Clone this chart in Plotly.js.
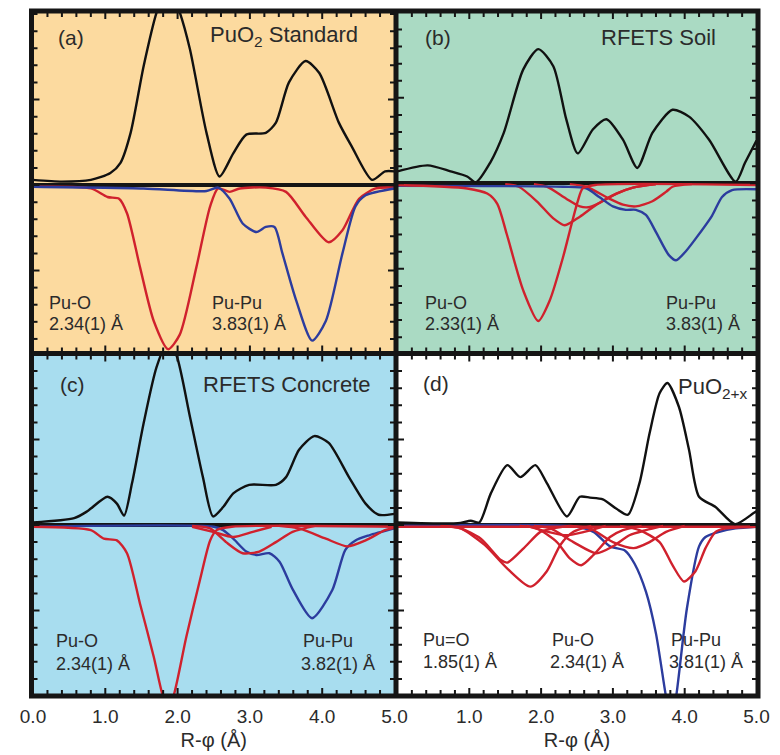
<!DOCTYPE html>
<html>
<head>
<meta charset="utf-8">
<script src="https://cdn.plot.ly/plotly-3.0.1.min.js"></script>
<style>html,body{margin:0;padding:0;background:#fff;} #plot{width:780px;height:755px;}</style>
</head>
<body>
<div id="plot"></div>
<script>
// ---------- DATA (R-phi in Angstrom, magnitude in arbitrary units) ----------
// Panel (a) PuO2 Standard
const aBlackR = [0, 0.4, 0.8, 1.07, 1.21, 1.35, 1.53, 1.71, 1.87, 2.03, 2.17, 2.40, 2.58, 2.77, 2.95, 3.22, 3.36, 3.54, 3.77, 3.96, 4.23, 4.41, 4.69, 4.87, 5.0];
const aBlackY = [0.06, 0.04, 0.06, 0.14, 0.26, 0.61, 1.39, 2.02, 2.35, 2.02, 1.59, 0.61, 0.10, 0.37, 0.59, 0.61, 0.73, 1.20, 1.45, 1.31, 0.73, 0.45, 0.06, 0.16, 0.16];
const aRedR = [0, 0.8, 1.03, 1.19, 1.30, 1.48, 1.67, 1.87, 2.03, 2.26, 2.45, 2.56, 2.72, 2.86, 3.22, 3.50, 3.77, 4.09, 4.28, 4.51, 4.74, 5.0];
const aRedY = [-0.02, -0.04, -0.14, -0.16, -0.33, -0.96, -1.59, -1.92, -1.75, -0.96, -0.25, -0.04, -0.08, -0.04, -0.03, -0.08, -0.37, -0.67, -0.53, -0.16, -0.04, -0.03];
const aBlueR = [0, 1.53, 2.40, 2.56, 2.72, 2.90, 3.09, 3.22, 3.34, 3.45, 3.64, 3.86, 4.05, 4.28, 4.46, 4.60, 5.0];
const aBlueY = [-0.02, -0.04, -0.07, -0.03, -0.16, -0.45, -0.55, -0.49, -0.49, -0.80, -1.35, -1.82, -1.59, -0.80, -0.25, -0.12, -0.04];

// Panel (b) RFETS Soil
const bBlackR = [0, 0.42, 0.74, 0.97, 1.09, 1.29, 1.48, 1.75, 1.96, 2.17, 2.35, 2.51, 2.72, 2.91, 3.14, 3.34, 3.55, 3.83, 4.06, 4.34, 4.71, 4.84, 5.0];
const bBlackY = [0.14, 0.21, 0.14, 0.08, 0.01, 0.24, 0.59, 1.33, 1.57, 1.37, 0.75, 0.35, 0.63, 0.75, 0.51, 0.18, 0.59, 0.86, 0.78, 0.51, 0.02, 0.24, 0.50];
const bRed1R = [0, 0.97, 1.25, 1.39, 1.52, 1.75, 1.96, 2.12, 2.31, 2.42, 2.51, 2.58, 2.75, 5.0];
const bRed1Y = [-0.02, -0.06, -0.12, -0.24, -0.59, -1.25, -1.61, -1.37, -0.85, -0.49, -0.21, -0.06, -0.02, -0.02];
const bRed2R = [1.5, 1.69, 1.94, 2.17, 2.33, 2.54, 2.77, 3.05, 3.28, 3.6];
const bRed2Y = [-0.01, -0.04, -0.21, -0.41, -0.49, -0.39, -0.25, -0.12, -0.05, -0.01];
const bRed3R = [1.9, 2.08, 2.35, 2.54, 2.66, 2.81, 3.05, 3.28, 3.6];
const bRed3Y = [-0.01, -0.04, -0.18, -0.27, -0.28, -0.23, -0.12, -0.05, -0.01];
const bRed4R = [2.4, 2.63, 2.95, 3.14, 3.32, 3.55, 3.74, 3.83, 4.1];
const bRed4Y = [-0.01, -0.04, -0.18, -0.25, -0.27, -0.21, -0.10, -0.04, -0.01];
const bBlueR = [0, 2.31, 2.63, 2.81, 3.0, 3.18, 3.32, 3.46, 3.60, 3.78, 3.88, 4.01, 4.15, 4.38, 4.52, 4.66, 5.0];
const bBlueY = [-0.03, -0.04, -0.06, -0.16, -0.27, -0.31, -0.31, -0.37, -0.57, -0.84, -0.90, -0.80, -0.65, -0.38, -0.16, -0.08, -0.07];

// Panel (c) RFETS Concrete
const cBlackR = [0, 0.57, 0.75, 1.03, 1.16, 1.26, 1.37, 1.53, 1.71, 1.87, 1.99, 2.17, 2.35, 2.49, 2.63, 2.77, 2.99, 3.36, 3.50, 3.68, 3.89, 4.09, 4.37, 4.60, 4.78, 5.0];
const cBlackY = [0.03, 0.08, 0.16, 0.33, 0.25, 0.11, 0.49, 1.19, 1.85, 2.15, 1.97, 1.27, 0.56, 0.10, 0.21, 0.37, 0.47, 0.47, 0.56, 0.88, 1.04, 0.96, 0.56, 0.25, 0.12, 0.13];
const cRed1R = [0, 0.80, 0.98, 1.16, 1.30, 1.48, 1.67, 1.80, 1.87, 1.94, 2.12, 2.31, 2.45, 2.54, 2.75, 5.0];
const cRed1Y = [-0.02, -0.06, -0.16, -0.18, -0.33, -0.92, -1.54, -2.01, -2.12, -2.01, -1.31, -0.64, -0.18, -0.06, -0.02, -0.02];
const cRed2R = [2.2, 2.45, 2.67, 2.90, 3.13, 3.36, 3.59, 3.9];
const cRed2Y = [-0.01, -0.04, -0.20, -0.33, -0.31, -0.20, -0.08, -0.01];
const cRed3R = [2.2, 2.49, 2.77, 3.04, 3.3];
const cRed3Y = [-0.02, -0.08, -0.14, -0.08, -0.02];
const cRed4R = [3.4, 3.68, 4.05, 4.35, 4.60, 4.87, 5.0];
const cRed4Y = [-0.01, -0.04, -0.16, -0.25, -0.18, -0.06, -0.03];
const cBlueR = [0, 2.5, 2.63, 2.77, 2.95, 3.09, 3.27, 3.41, 3.59, 3.86, 4.14, 4.32, 4.46, 4.65, 5.0];
const cBlueY = [-0.02, -0.02, -0.06, -0.16, -0.31, -0.35, -0.33, -0.43, -0.75, -1.09, -0.76, -0.29, -0.18, -0.12, -0.04];

// Panel (d) PuO2+x
const dBlackR = [0, 0.84, 1.02, 1.14, 1.30, 1.53, 1.71, 1.92, 2.08, 2.36, 2.54, 2.68, 2.86, 3.05, 3.21, 3.37, 3.51, 3.65, 3.76, 3.92, 4.06, 4.20, 4.43, 4.70, 4.96, 5.0];
const dBlackY = [0.03, 0.02, 0.05, 0.03, 0.37, 0.70, 0.56, 0.70, 0.49, 0.10, 0.33, 0.32, 0.30, 0.19, 0.12, 0.49, 1.07, 1.54, 1.66, 1.38, 0.88, 0.33, 0.21, 0.01, 0.14, 0.16];
const dRed1R = [0.6, 0.88, 1.21, 1.53, 1.85, 2.08, 2.27, 2.45, 2.7];
const dRed1Y = [-0.01, -0.04, -0.23, -0.51, -0.72, -0.54, -0.23, -0.08, -0.01];
const dRed2R = [0.6, 0.88, 1.16, 1.44, 1.53, 1.76, 1.99, 2.17, 2.4];
const dRed2Y = [-0.01, -0.04, -0.16, -0.41, -0.44, -0.27, -0.08, -0.04, -0.01];
const dRed3R = [1.7, 1.94, 2.22, 2.40, 2.56, 2.73, 2.96, 3.14, 3.4];
const dRed3Y = [-0.01, -0.04, -0.20, -0.39, -0.47, -0.35, -0.14, -0.06, -0.01];
const dRed4R = [1.9, 2.13, 2.45, 2.77, 3.0, 3.23, 3.46, 3.7];
const dRed4Y = [-0.01, -0.04, -0.20, -0.33, -0.25, -0.12, -0.06, -0.01];
const dRed5R = [2.4, 2.68, 3.00, 3.29, 3.51, 3.74, 4.0];
const dRed5Y = [-0.01, -0.04, -0.20, -0.27, -0.20, -0.08, -0.01];
const dRed6R = [1.8, 2.1, 2.35, 2.6, 2.9];
const dRed6Y = [-0.01, -0.08, -0.12, -0.08, -0.01];
const dRed7R = [3.1, 3.37, 3.65, 3.83, 3.99, 4.15, 4.29, 4.43, 4.57, 5.0];
const dRed7Y = [-0.01, -0.06, -0.20, -0.47, -0.66, -0.54, -0.27, -0.08, -0.04, -0.02];
const dRedBaseR = [0, 5.0];
const dRedBaseY = [-0.02, -0.02];
const dBlueR = [0, 2.5, 2.73, 2.96, 3.17, 3.30, 3.46, 3.60, 3.74, 3.81, 3.88, 4.03, 4.20, 4.29, 4.48, 4.71, 5.0];
const dBlueY = [-0.01, -0.02, -0.08, -0.25, -0.30, -0.45, -0.78, -1.27, -2.01, -2.30, -2.01, -0.98, -0.25, -0.14, -0.08, -0.04, -0.02];

// Tick labels / tick positions
const xTickValsLeft = [0, 1, 2, 3, 4, 5];
const xTickTextLeft = ['0.0', '1.0', '2.0', '3.0', '4.0', '5.0'];
const xTickValsRight = [1, 2, 3, 4, 5];
const xTickTextRight = ['1.0', '2.0', '3.0', '4.0', '5.0'];
const xMajorTicks = [1, 2, 3, 4];
const yMajorTicks = [-1, 0, 1];
const MINOR_STEP = 0.2;
const xTitle = 'R-\u03c6 (\u00c5)';

// ---------- STYLE / GEOMETRY ----------
const BLACK = '#111111', RED = '#D0212D', BLUE = '#2C3C9E';
const LW = 2.4;
const FONT = 'Liberation Sans, Arial, Helvetica, sans-serif';
const TXT = '#2b2b2b';
const AXC = '#151515';

const M = {l: 30, r: 20, t: 9, b: 57};
const PW = 780 - M.l - M.r, PH = 755 - M.t - M.b;
const px = p => (p - M.l) / PW;
const py = p => (755 - M.b - p) / PH;
const FX = [31.5, 396, 758], FY = [11, 353.5, 696];
const INS = 1.5;
const dxL = [px(FX[0] + INS), px(FX[1] - INS)];
const dxR = [px(FX[1] + INS), px(FX[2] - INS)];
const dyT = [py(FY[1] - INS), py(FY[0] + INS)];
const dyB = [py(FY[2] - INS), py(FY[1] + INS)];
const panelW = {x: FX[1] - FX[0] - 2 * INS, x2: FX[2] - FX[1] - 2 * INS, x3: FX[1] - FX[0] - 2 * INS, x4: FX[2] - FX[1] - 2 * INS};
const panelH = {y: FY[1] - FY[0] - 2 * INS, y2: FY[1] - FY[0] - 2 * INS, y3: FY[2] - FY[1] - 2 * INS, y4: FY[2] - FY[1] - 2 * INS};

const yRanges = {y: [-1.953, 2.018], y2: [-1.973, 1.998], y3: [-1.982, 1.988], y4: [-1.982, 1.988]};

function tr(x, y, color, xa, ya) {
  return {x: x, y: y, type: 'scatter', mode: 'lines', xaxis: xa, yaxis: ya,
          line: {color: color, width: LW, shape: 'spline', smoothing: 0.7},
          hoverinfo: 'skip', showlegend: false};
}

const data = [
  tr(aRedR, aRedY, RED, 'x', 'y'),
  tr(aBlueR, aBlueY, BLUE, 'x', 'y'),
  tr(aBlackR, aBlackY, BLACK, 'x', 'y'),

  tr(bRed2R, bRed2Y, RED, 'x2', 'y2'),
  tr(bRed3R, bRed3Y, RED, 'x2', 'y2'),
  tr(bRed4R, bRed4Y, RED, 'x2', 'y2'),
  tr(bBlueR, bBlueY, BLUE, 'x2', 'y2'),
  tr(bRed1R, bRed1Y, RED, 'x2', 'y2'),
  tr(bBlackR, bBlackY, BLACK, 'x2', 'y2'),

  tr(cBlueR, cBlueY, BLUE, 'x3', 'y3'),
  tr(cRed2R, cRed2Y, RED, 'x3', 'y3'),
  tr(cRed3R, cRed3Y, RED, 'x3', 'y3'),
  tr(cRed4R, cRed4Y, RED, 'x3', 'y3'),
  tr(cRed1R, cRed1Y, RED, 'x3', 'y3'),
  tr(cBlackR, cBlackY, BLACK, 'x3', 'y3'),

  tr(dBlueR, dBlueY, BLUE, 'x4', 'y4'),
  tr(dRed1R, dRed1Y, RED, 'x4', 'y4'),
  tr(dRed2R, dRed2Y, RED, 'x4', 'y4'),
  tr(dRed3R, dRed3Y, RED, 'x4', 'y4'),
  tr(dRed4R, dRed4Y, RED, 'x4', 'y4'),
  tr(dRed5R, dRed5Y, RED, 'x4', 'y4'),
  tr(dRed6R, dRed6Y, RED, 'x4', 'y4'),
  tr(dRed7R, dRed7Y, RED, 'x4', 'y4'),
  tr(dRedBaseR, dRedBaseY, RED, 'x4', 'y4'),
  tr(dBlackR, dBlackY, BLACK, 'x4', 'y4')
];

function xax(domain, anchor, bottom, left) {
  const ax = {
    domain: domain, anchor: anchor, range: [0, 5], showgrid: false, zeroline: false,
    showline: false, ticks: '', tickmode: 'array',
    showticklabels: bottom, fixedrange: true,
    tickfont: {family: FONT, size: 19, color: TXT}
  };
  if (bottom) {
    ax.tickvals = left ? xTickValsLeft : xTickValsRight;
    ax.ticktext = left ? xTickTextLeft : xTickTextRight;
    ax.ticklabelstandoff = 8;
    ax.title = {text: xTitle, font: {family: FONT, size: 20, color: TXT}, standoff: 7};
  } else {
    ax.tickvals = xTickValsLeft;
  }
  return ax;
}
function yax(domain, anchor, range) {
  return {
    domain: domain, anchor: anchor, range: range, showgrid: false,
    zeroline: true, zerolinewidth: 4, zerolinecolor: AXC,
    showline: false, ticks: '', showticklabels: false, fixedrange: true
  };
}

// tick marks placed through the axes' own scales; lengths converted from pixels to axis units
const MAJ = 6.5, MIN = 4.5, TW = 2;
function tickMarks(xa, ya) {
  const out = [];
  const ln = {color: AXC, width: TW};
  const yr = yRanges[ya];
  const yPerPx = (yr[1] - yr[0]) / panelH[ya];
  const xPerPx = 5 / panelW[xa];
  for (let i = 1; i < 25; i++) {
    const v = +(i * MINOR_STEP).toFixed(2);
    const len = (xMajorTicks.indexOf(v) >= 0 ? MAJ : MIN) * yPerPx;
    out.push({type: 'line', xref: xa, yref: ya, x0: v, x1: v, y0: yr[0], y1: yr[0] + len, line: ln, layer: 'above'});
    out.push({type: 'line', xref: xa, yref: ya, x0: v, x1: v, y0: yr[1], y1: yr[1] - len, line: ln, layer: 'above'});
  }
  for (let i = Math.ceil(yr[0] / MINOR_STEP); i * MINOR_STEP < yr[1]; i++) {
    const v = +(i * MINOR_STEP).toFixed(2);
    const len = (yMajorTicks.indexOf(v) >= 0 ? MAJ : MIN) * xPerPx;
    out.push({type: 'line', xref: xa, yref: ya, y0: v, y1: v, x0: 0, x1: len, line: ln, layer: 'above'});
    out.push({type: 'line', xref: xa, yref: ya, y0: v, y1: v, x0: 5, x1: 5 - len, line: ln, layer: 'above'});
  }
  return out;
}

function bg(xa, ya, color) {
  return {type: 'rect', xref: xa + ' domain', yref: ya + ' domain', x0: 0, x1: 1, y0: 0, y1: 1,
          fillcolor: color, line: {width: 0}, layer: 'below'};
}
const frame = {color: AXC, width: 5};
const shapes = [].concat(
  [bg('x', 'y', '#FCDA9F'), bg('x2', 'y2', '#AADAC3'), bg('x3', 'y3', '#A8DDEF')],
  tickMarks('x', 'y'), tickMarks('x2', 'y2'), tickMarks('x3', 'y3'), tickMarks('x4', 'y4'),
  [
    {type: 'rect', xref: 'paper', yref: 'paper', x0: px(FX[0]), x1: px(FX[2]), y0: py(FY[2]), y1: py(FY[0]), line: frame, layer: 'above'},
    {type: 'line', xref: 'paper', yref: 'paper', x0: px(FX[1]), x1: px(FX[1]), y0: py(FY[2]), y1: py(FY[0]), line: frame, layer: 'above'},
    {type: 'line', xref: 'paper', yref: 'paper', x0: px(FX[0]), x1: px(FX[2]), y0: py(FY[1]), y1: py(FY[1]), line: frame, layer: 'above'}
  ]
);

function ann(xa, ya, x, y, text, size, anchor) {
  return {xref: xa, yref: ya, x: x, y: y, text: text, showarrow: false,
          xanchor: anchor || 'left', yanchor: 'middle',
          font: {family: FONT, size: size, color: TXT}};
}
const annotations = [
  ann('x', 'y', 0.32, 1.72, '(a)', 21),
  ann('x', 'y', 2.42, 1.74, 'PuO<sub>2</sub> Standard', 22),
  ann('x', 'y', 0.20, -1.38, 'Pu-O', 18),
  ann('x', 'y', 0.20, -1.62, '2.34(1) \u00c5', 18),
  ann('x', 'y', 2.45, -1.38, 'Pu-Pu', 18),
  ann('x', 'y', 2.45, -1.62, '3.83(1) \u00c5', 18),

  ann('x2', 'y2', 0.35, 1.71, '(b)', 21),
  ann('x2', 'y2', 2.81, 1.71, 'RFETS Soil', 22),
  ann('x2', 'y2', 0.35, -1.40, 'Pu-O', 18),
  ann('x2', 'y2', 0.35, -1.64, '2.33(1) \u00c5', 18),
  ann('x2', 'y2', 3.71, -1.40, 'Pu-Pu', 18),
  ann('x2', 'y2', 3.71, -1.64, '3.83(1) \u00c5', 18),

  ann('x3', 'y3', 0.34, 1.64, '(c)', 21),
  ann('x3', 'y3', 2.33, 1.64, 'RFETS Concrete', 22),
  ann('x3', 'y3', 0.29, -1.36, 'Pu-O', 18),
  ann('x3', 'y3', 0.29, -1.62, '2.34(1) \u00c5', 18),
  ann('x3', 'y3', 3.70, -1.36, 'Pu-Pu', 18),
  ann('x3', 'y3', 3.68, -1.62, '3.82(1) \u00c5', 18),

  ann('x4', 'y4', 0.33, 1.66, '(d)', 21),
  ann('x4', 'y4', 3.88, 1.60, 'PuO<sub>2+x</sub>', 22),
  ann('x4', 'y4', 0.33, -1.35, 'Pu=O', 18),
  ann('x4', 'y4', 0.33, -1.60, '1.85(1) \u00c5', 18),
  ann('x4', 'y4', 2.12, -1.35, 'Pu-O', 18),
  ann('x4', 'y4', 2.10, -1.60, '2.34(1) \u00c5', 18),
  ann('x4', 'y4', 3.78, -1.35, 'Pu-Pu', 18),
  ann('x4', 'y4', 3.76, -1.60, '3.81(1) \u00c5', 18)
];

const layout = {
  width: 780, height: 755,
  margin: {l: M.l, r: M.r, t: M.t, b: M.b, pad: 0},
  paper_bgcolor: '#ffffff', plot_bgcolor: '#ffffff',
  showlegend: false,
  font: {family: FONT, color: TXT},
  xaxis: xax(dxL, 'y', false, true),
  yaxis: yax(dyT, 'x', yRanges.y),
  xaxis2: xax(dxR, 'y2', false, false),
  yaxis2: yax(dyT, 'x2', yRanges.y2),
  xaxis3: xax(dxL, 'y3', true, true),
  yaxis3: yax(dyB, 'x3', yRanges.y3),
  xaxis4: xax(dxR, 'y4', true, false),
  yaxis4: yax(dyB, 'x4', yRanges.y4),
  shapes: shapes,
  annotations: annotations
};

Plotly.newPlot('plot', data, layout, {staticPlot: true, displayModeBar: false});
</script>
</body>
</html>
